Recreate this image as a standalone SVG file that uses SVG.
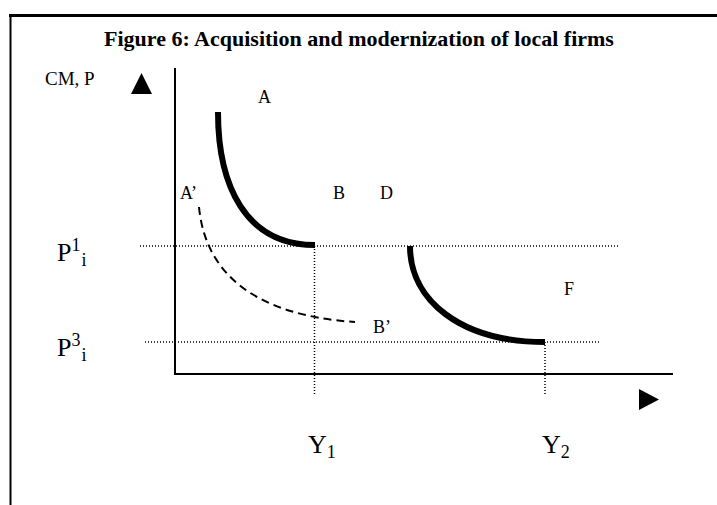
<svg xmlns="http://www.w3.org/2000/svg" width="717" height="505" viewBox="0 0 717 505">
<style>
text{font-family:"Liberation Serif","Times New Roman",serif;fill:#000}
.lbl{font-size:18px}
.big{font-size:26px}
.sm{font-size:18px}
.dot{stroke:#000;stroke-width:1.5;stroke-dasharray:1 2;fill:none}
.thick{stroke:#000;stroke-width:6;fill:none}
.dash{stroke:#000;stroke-width:2;stroke-dasharray:8 5;fill:none}
.axis{stroke:#000;stroke-width:2;fill:none}
</style>
<rect width="717" height="505" fill="#fff"/>
<g id="frame">
<line x1="9" y1="15.5" x2="717" y2="15.5" stroke="#000" stroke-width="3"/>
<line x1="10.5" y1="15" x2="10.5" y2="505" stroke="#000" stroke-width="2"/>
</g>
<g id="title">
<text x="359" y="46" text-anchor="middle" style="font-size:22px;font-weight:bold">Figure 6: Acquisition and modernization of local firms</text>
</g>
<g id="axes">
<line class="axis" x1="175" y1="68" x2="175" y2="375"/>
<line class="axis" x1="174" y1="374" x2="673" y2="374"/>
<polygon points="131,94 152,94 141.5,73" fill="#000"/>
<polygon points="639,389 639,410 659,399.5" fill="#000"/>
</g>
<g id="guides">
<line class="dot" x1="140" y1="246" x2="619" y2="246"/>
<line class="dot" x1="145" y1="342" x2="599" y2="342"/>
<line class="dot" x1="314.5" y1="246" x2="314.5" y2="396"/>
<line class="dot" x1="545" y1="342" x2="545" y2="396"/>
</g>
<g id="curves">
<path class="thick" d="M218,112 C218,185 245,245 315,245"/>
<path class="thick" d="M410,246 C410,300 460,342 545,342"/>
<path class="dash" d="M199,207 C205,270 250,315 355,322"/>
</g>
<g id="labels">
<text x="45" y="85" style="font-size:19px">CM, P</text>
<text class="lbl" x="258" y="103">A</text>
<text class="lbl" x="180" y="199">A’</text>
<text class="lbl" x="333" y="199">B</text>
<text class="lbl" x="380" y="199">D</text>
<text class="lbl" x="564" y="295">F</text>
<text class="lbl" x="373" y="333">B’</text>
<text class="big" x="57" y="261">P<tspan class="sm" dy="-10">1</tspan><tspan class="sm" dx="1" dy="15">i</tspan></text>
<text class="big" x="57" y="356">P<tspan class="sm" dy="-10">3</tspan><tspan class="sm" dx="1" dy="15">i</tspan></text>
<text class="big" x="308" y="453">Y<tspan class="sm" dy="5">1</tspan></text>
<text class="big" x="542" y="453">Y<tspan class="sm" dy="5">2</tspan></text>
</g>
</svg>
